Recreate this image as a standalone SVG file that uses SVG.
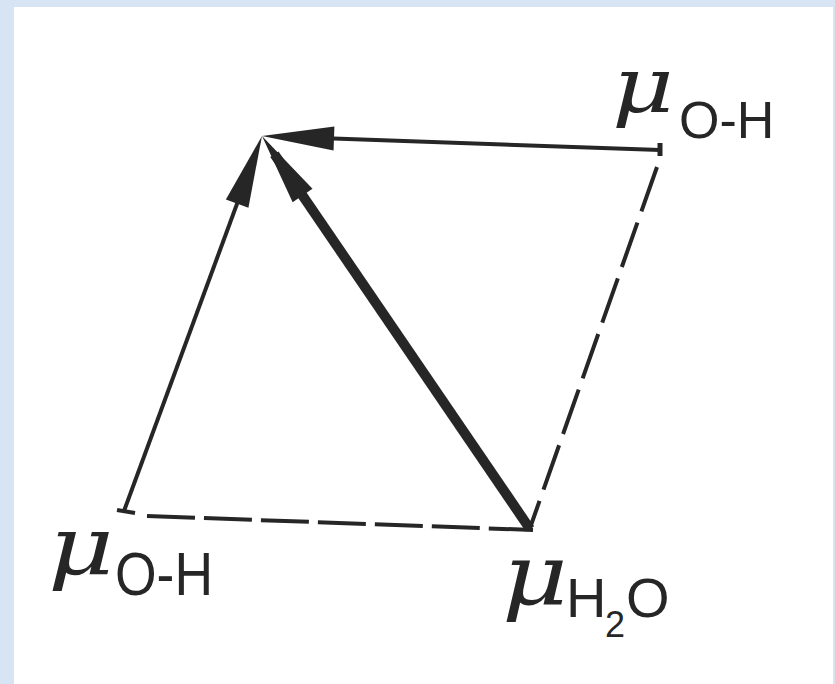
<svg xmlns="http://www.w3.org/2000/svg" width="835" height="684" viewBox="0 0 835 684">
<style>
.ln{stroke:#262626;fill:none;stroke-linecap:butt}
.thin{stroke-width:4}
.thick{stroke-width:10}
.dash{stroke-width:4}
.mu{font-family:"DejaVu Serif",serif;font-style:italic;fill:#262626}
.sub{font-family:"Liberation Sans",Arial,sans-serif;fill:#262626}
</style>
<defs>
<marker id="ah" markerUnits="userSpaceOnUse" markerWidth="74" markerHeight="28" refX="50" refY="13" orient="auto" overflow="visible">
<path d="M0,1 L72,13 L0,25 Z" fill="#262626"/>
</marker>
</defs>
<rect x="0" y="0" width="835" height="684" fill="#d6e4f3"/>
<rect x="14" y="7" width="819" height="680" fill="#ffffff"/>
<g id="connectors">
<line class="ln dash" x1="147" y1="516" x2="533" y2="530" stroke-dasharray="48 9"/>
<line class="ln dash" x1="657" y1="167" x2="530" y2="528" stroke-dasharray="47 12"/>
<line class="ln thin" x1="124" y1="511" x2="254.4" y2="156.6" marker-end="url(#ah)"/>
<line class="ln thin" x1="660" y1="150" x2="284" y2="136.8" marker-end="url(#ah)"/>
<line class="ln thick" x1="530" y1="529" x2="274.4" y2="154.2" marker-end="url(#ah)"/>
<line class="ln thin" x1="117" y1="510" x2="135" y2="513"/>
<line class="ln" stroke-width="5" x1="660" y1="143" x2="660" y2="156"/>
</g>
<g id="label-top">
<text class="mu" x="612" y="112" font-size="76" textLength="62" lengthAdjust="spacingAndGlyphs">μ</text>
<text class="sub" x="679" y="138" font-size="52">O-H</text>
</g>
<g id="label-left">
<text class="mu" x="48" y="574" font-size="80" textLength="66" lengthAdjust="spacingAndGlyphs">μ</text>
<text class="sub" x="115" y="595" font-size="62" textLength="98" lengthAdjust="spacingAndGlyphs">O-H</text>
</g>
<g id="label-h2o">
<text class="mu" x="502" y="604" font-size="84" textLength="66" lengthAdjust="spacingAndGlyphs">μ</text>
<text class="sub" y="617" font-size="56"><tspan x="566">H</tspan><tspan x="605" y="637" font-size="36">2</tspan><tspan x="626" y="617">O</tspan></text>
</g>
</svg>
